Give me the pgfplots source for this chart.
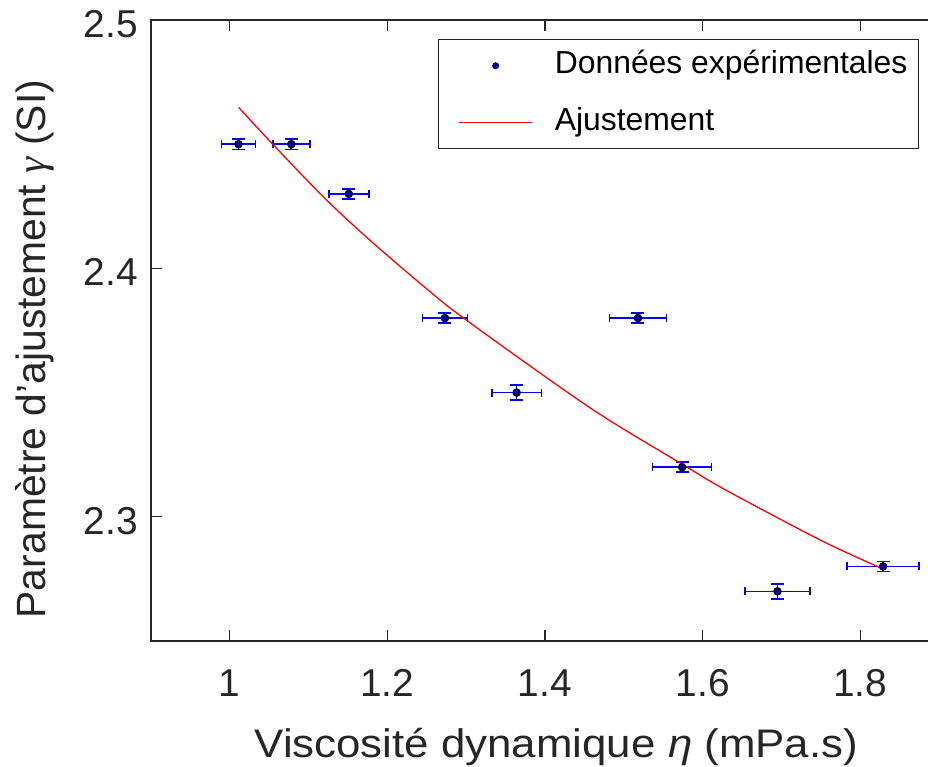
\documentclass[border=0pt]{standalone}
\usepackage{fontspec}
\setmainfont{Liberation Sans}
\newfontfamily\widefont{Liberation Sans}[FakeStretch=1.1]
\newfontfamily\greekserif{Liberation Serif}
\usepackage{pgfplots}
\usepackage{pgfplotstable}
\pgfplotsset{compat=1.18}

\definecolor{axisgray}{RGB}{38,38,38}
\definecolor{ptfill}{RGB}{0,0,150}
\definecolor{errblue}{RGB}{0,0,255}

% mesures : viscosite, gamma, incertitudes
\pgfplotstableread{
x      y      ex      ey
1.011  2.450  0.0216  0.0021
1.078  2.450  0.0235  0.0021
1.151  2.430  0.0254  0.0020
1.273  2.380  0.0286  0.0020
1.364  2.350  0.0315  0.0030
1.518  2.380  0.0360  0.0020
1.574  2.320  0.0374  0.0020
1.695  2.270  0.0410  0.0030
1.829  2.280  0.0457  0.0020
}\mesures

\begin{document}
\begin{tikzpicture}
\begin{axis}[
    scale only axis,
    width=788bp, height=621bp,
    xmin=0.9, xmax=1.9,
    ymin=2.25, ymax=2.5,
    xtick={1,1.2,1.4,1.6,1.8},
    ytick={2.3,2.4,2.5},
    tick align=inside,
    major tick length=11bp,
    axis line style={axisgray, line width=1.1bp},
    tick style={axisgray, line width=1.1bp},
    /pgf/number format/assume math mode=true,
    ticklabel style={font=\fontsize{39}{45}\selectfont, text=axisgray, inner sep=0pt},
    xticklabel style={anchor=base, yshift=-55bp},
    yticklabel style={anchor=east, xshift=-13bp, yshift=-4bp},
    xlabel={Viscosité dynamique \textit{η} (mPa.s)},
    xlabel style={at={(axis description cs:0.5143,-0.1868)}, anchor=base,
        font=\widefont\fontsize{40}{46}\selectfont, text=axisgray, inner sep=0pt},
    ylabel={Paramètre d'ajustement {\greekserif\itshape γ} (SI)},
    ylabel style={at={(axis description cs:-0.1345,0.47)}, anchor=base,
        font=\fontsize{41}{47}\selectfont, text=axisgray, inner sep=0pt},
    legend style={
        at={(axis description cs:0.9746,0.969)}, anchor=north east,
        draw=axisgray, line width=1bp,
        font=\fontsize{32}{38}\selectfont,
        nodes={inner sep=0pt, text height=24bp, text depth=8bp},
        cells={anchor=west},
        column sep=22bp, row sep=25bp,
        inner xsep=11bp, inner ysep=10bp,
    },
]

% barres d'erreur horizontales
\addplot[forget plot, only marks, mark=*, mark size=0.01bp,
    error bars/.cd, x dir=both, x explicit, error mark=|,
    error bar style={draw=errblue, line width=1.6bp},
    error mark options={draw=errblue, line width=1.6bp, mark size=4bp}]
    table[x=x, y=y, x error=ex] {\mesures};

% barres d'erreur verticales
\addplot[forget plot, only marks, mark=*, mark size=0.01bp,
    error bars/.cd, y dir=both, y explicit, error mark=|,
    error bar style={draw=errblue, line width=1.6bp},
    error mark options={draw=errblue, line width=1.6bp, mark size=6.5bp}]
    table[x=x, y=y, y error=ey] {\mesures};

% points
\addplot[only marks, mark=*, mark size=3.8bp,
    mark options={fill=ptfill, draw=black, line width=0.9bp},
    legend image code/.code={\fill[ptfill] (36.5bp,0bp) circle[radius=3bp];\path (-9bp,0bp) (73bp,0bp);}]
    table[x=x, y=y] {\mesures};
\addlegendentry{Données expérimentales}

% ajustement
\addplot[red, line width=1.3bp, smooth,
    legend image code/.code={\draw[red, line width=1.3bp] (0bp,0bp) -- (73bp,0bp);\path (-9bp,0bp);}]
    coordinates {
    (1.0113, 2.4648)
    (1.0545, 2.4500)
    (1.1190, 2.4287)
    (1.1780, 2.4113)
    (1.2524, 2.3911)
    (1.3010, 2.3790)
    (1.4576, 2.3438)
    (1.5740, 2.3212)
    (1.6310, 2.3105)
    (1.7516, 2.2903)
    (1.8290, 2.2790)
};
\addlegendentry{Ajustement}

\end{axis}
\pgfresetboundingbox
\useasboundingbox (-151bp,-126bp) rectangle (777bp,641bp);
\end{tikzpicture}
\end{document}
